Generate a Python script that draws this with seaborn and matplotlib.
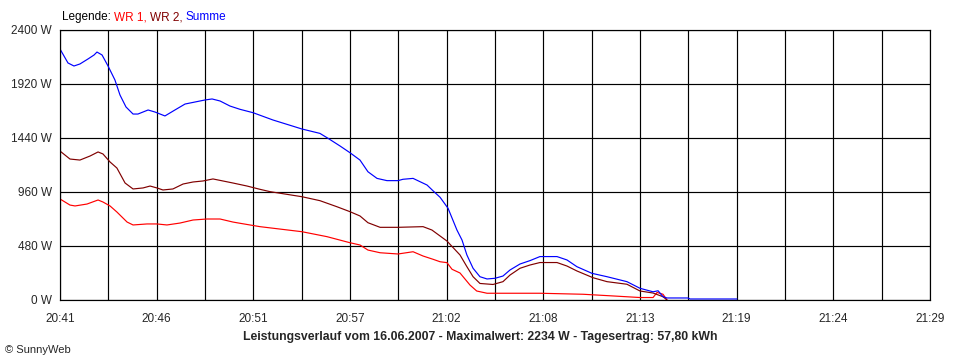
import numpy as np
import pandas as pd
import matplotlib
matplotlib.use("Agg")
import matplotlib.pyplot as plt
import seaborn as sns

# -----------------------------
# Data (minutes after 20:41, power in W)
# -----------------------------

t_summe = [0.00, 0.44, 0.77, 1.10, 1.54, 1.88, 2.04, 2.32, 2.65, 3.03, 3.31, 3.64, 4.03, 4.30,
           4.86, 5.24, 5.79, 6.34, 6.90, 7.45, 8.00, 8.39, 8.83, 9.38, 9.93, 10.65, 11.75, 13.35,
           14.34, 14.79, 15.45, 16.00, 16.55, 16.99, 17.49, 18.04, 18.65, 18.92, 19.48, 20.25,
           20.58, 20.97, 21.41, 21.90, 22.18, 22.45, 22.79, 23.17, 23.56, 24.00, 24.44, 24.83,
           25.38, 25.93, 26.48, 27.42, 27.97, 28.52, 29.35, 30.18, 31.28, 32.00, 32.72, 33.00,
           33.27, 33.49, 34.65, 34.76, 37.35]
p_summe = [2231, 2107, 2080, 2098, 2142, 2178, 2204, 2178, 2080, 1956, 1822, 1716, 1653, 1653,
           1689, 1671, 1636, 1689, 1742, 1760, 1778, 1787, 1769, 1724, 1695, 1665, 1600, 1520,
           1481, 1437, 1369, 1309, 1244, 1140, 1081, 1061, 1061, 1073, 1081, 1022,
           971, 913, 815, 622, 533, 400, 282, 207, 187, 193, 213, 267,
           320, 350, 386, 386, 356, 296, 237, 207, 163, 104, 73, 82,
           29, 18, 18, 9, 9]

t_wr2 = [0.00, 0.55, 1.10, 1.66, 2.10, 2.37, 2.76, 3.14, 3.59, 4.03, 4.58, 4.97, 5.35, 5.68,
         6.23, 6.79, 7.34, 7.89, 8.44, 8.99, 9.54, 10.32, 11.03, 11.59, 13.35, 14.34, 15.28,
         16.00, 16.55, 16.99, 17.66, 18.65, 20.03, 20.52, 21.35, 22.07, 22.45, 22.79, 23.17,
         23.89, 24.44, 24.83, 25.38, 25.93, 26.48, 27.42, 27.97, 28.52, 29.41, 30.18, 31.28,
         32.00, 32.72, 33.27, 33.49]
p_wr2 = [1324, 1253, 1244, 1280, 1316, 1298, 1227, 1173, 1040, 987, 996, 1013, 996, 978,
         987, 1031, 1049, 1058, 1076, 1058, 1040, 1013, 984, 963, 918, 883, 829,
         785, 747, 687, 646, 646, 652, 622, 524, 400, 296, 207, 147,
         138, 163, 222, 282, 311, 333, 333, 302, 258, 198, 163, 140,
         80, 62, 29, 0]

t_wr1 = [0.00, 0.55, 0.83, 1.49, 2.10, 2.37, 2.76, 3.14, 3.70, 4.03, 4.80, 5.35, 5.90, 6.62,
         7.34, 8.11, 8.83, 9.54, 9.93, 11.03, 13.35, 14.73, 16.00, 16.55, 16.99, 17.66, 18.65,
         19.48, 20.03, 20.58, 20.97, 21.35, 21.63, 22.07, 22.62, 22.99, 23.56, 26.48, 28.86,
         30.51, 32.00, 32.72, 32.94, 33.27, 33.49]
p_wr1 = [898, 844, 836, 853, 889, 871, 836, 782, 693, 667, 676, 676, 667, 684,
         711, 720, 720, 693, 682, 652, 607, 563, 509, 489, 444, 420, 409,
         429, 391, 362, 340, 332, 273, 240, 133, 80, 60, 60, 51,
         36, 22, 22, 67, 51, 0]

x_labels = ["20:41", "20:46", "20:51", "20:57", "21:02", "21:08", "21:13", "21:19", "21:24", "21:29"]
y_ticks = [0, 480, 960, 1440, 1920, 2400]

df = pd.concat([
    pd.DataFrame({"t": t_wr1, "p": p_wr1, "serie": "WR 1"}),
    pd.DataFrame({"t": t_wr2, "p": p_wr2, "serie": "WR 2"}),
    pd.DataFrame({"t": t_summe, "p": p_summe, "serie": "Summe"}),
])

colors = {"WR 1": "#ff0000", "WR 2": "#800000", "Summe": "#0000ff"}

# -----------------------------
# Plot
# -----------------------------

sns.set_style("white")
plt.rcParams['font.family'] = ['Liberation Sans', 'DejaVu Sans']

fig = plt.figure(figsize=(9.6, 3.6), dpi=100)
ax = fig.add_axes([60/960, 60/360, 870/960, 270/360])

sns.lineplot(data=df, x="t", y="p", hue="serie", palette=colors, estimator=None,
             sort=False, linewidth=0.85, legend=False, ax=ax)

ax.set_xlim(0, 48)
ax.set_ylim(0, 2400)
xt = np.linspace(0, 48, 19)
ax.set_xticks(xt)
ax.set_xticklabels([x_labels[i // 2] if i % 2 == 0 else "" for i in range(19)])
ax.set_yticks(y_ticks)
ax.set_yticklabels([f"{v} W" for v in y_ticks])
ax.grid(True, color="black", linewidth=0.85)
ax.set_axisbelow(True)
for s in ax.spines.values():
    s.set_color("black")
    s.set_linewidth(0.85)
ax.tick_params(axis="both", direction="out", length=4, width=0.85, color="black",
               labelsize=8.5, pad=2)
ax.tick_params(axis="x", pad=5)
ax.set_xlabel("")
ax.set_ylabel("")

# legend title in colours
t0 = fig.text(62/960, 1 - 17/360, "Legende: ", fontsize=8.5, color="black", va="center")
t1 = ax.annotate("WR 1, ", xycoords=t0, xy=(1, 0), va="bottom", fontsize=8.5, color="#ff0000")
t2 = ax.annotate("WR 2, ", xycoords=t1, xy=(1, 0), va="bottom", fontsize=8.5, color="#800000")
ax.annotate("Summe", xycoords=t2, xy=(1, 0), va="bottom", fontsize=8.5, color="#0000ff")

fig.text(480/960, 1 - 337/360,
         "Leistungsverlauf vom 16.06.2007 - Maximalwert: 2234 W - Tagesertrag: 57,80 kWh",
         ha="center", va="center", fontsize=8.8, fontweight="bold")
fig.text(5/960, 1 - 350/360, "© SunnyWeb", ha="left", va="center", fontsize=8)

fig.savefig("out.png", dpi=100)
